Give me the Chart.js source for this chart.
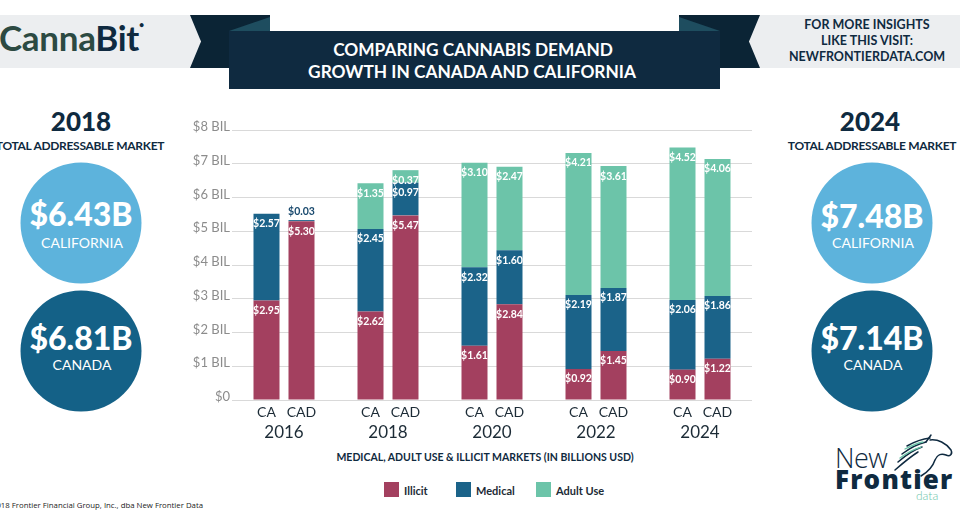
<!DOCTYPE html>
<html><head><meta charset="utf-8">
<script src="https://cdn.jsdelivr.net/npm/chart.js@4"></script>
<style>
html,body{margin:0;padding:0;}
body{width:960px;height:521px;position:relative;overflow:hidden;background:#fff;font-family:Lato,"Open Sans",sans-serif;}
.t{position:absolute;white-space:nowrap;line-height:1;}
.c{transform:translate(-50%,-50%);text-align:center;}
#wrap{position:absolute;left:178px;top:110px;width:592px;height:340px;}
</style></head><body>
<svg width="960" height="521" style="position:absolute;left:0;top:0">
  <rect x="0" y="15" width="200" height="53" fill="#eceef0"/>
  <rect x="750" y="15" width="210" height="53" fill="#eceef0"/>
  <polygon points="190,15 270,15 270,68 190,68 201,41.5" fill="#0b2435"/>
  <polygon points="760,15 679,15 679,68 760,68 749,41.5" fill="#0b2435"/>
  <rect x="229" y="31" width="491" height="58" fill="#0f2a40"/>
  <polygon points="229,31 270,17 270,31" fill="#1e4d5f"/>
  <polygon points="720,31 679,17 679,31" fill="#1e4d5f"/>
  <circle cx="81" cy="223" r="60.5" fill="#5db3dc"/>
  <circle cx="81" cy="351" r="60.5" fill="#146187"/>
  <circle cx="872" cy="223" r="60.5" fill="#5db3dc"/>
  <circle cx="872" cy="351" r="60.5" fill="#146187"/>
  <rect x="384" y="482" width="15" height="15" fill="#a3405f"/>
  <rect x="456" y="482" width="15" height="15" fill="#1b6389"/>
  <rect x="536" y="482" width="15" height="15" fill="#6cc4a9"/>
  <g fill="none" stroke="#0f2a40" stroke-width="1.5" stroke-linecap="round">
    <path d="M930,440 C938,439 946,443 951,450 C953,454 950,457 946,455 C941,453 937,455 935,460 C933,466 928,472 921,476"/>
    <path d="M895,470 C903,463 910,457 918,452"/>
    <path d="M898,462 C906,455 913,450 922,447"/>
    <path d="M902,454 C910,448 917,444 926,442"/>
    <path d="M907,446 C914,442 921,439 930,438"/>
    <path d="M926,442 L931,435"/>
  </g>
  <g fill="none" stroke="#6cc4a9" stroke-width="1.3" stroke-linecap="round">
    <path d="M900,458 C908,452 914,449 921,447"/>
    <path d="M905,449 C911,446 917,443 923,442"/>
  </g>
</svg>

<div class="t" style="left:-1px;top:20px;font-size:35px;font-weight:700;letter-spacing:-0.3px"><span style="color:#2c4a42">Canna</span><span style="color:#0f2a40">Bit</span><span style="color:#0f2a40;font-size:9px;vertical-align:top">&#8226;</span></div>
<div class="t c" style="left:473px;top:50px;color:#fff;font-size:17.3px;font-weight:700">COMPARING CANNABIS DEMAND</div>
<div class="t c" style="left:472px;top:72px;color:#fff;font-size:17.3px;font-weight:700">GROWTH IN CANADA AND CALIFORNIA</div>
<div class="t c" style="left:867px;top:25px;color:#0f2a40;font-size:12.5px;font-weight:700">FOR MORE INSIGHTS</div>
<div class="t c" style="left:867px;top:41px;color:#0f2a40;font-size:12.5px;font-weight:700">LIKE THIS VISIT:</div>
<div class="t c" style="left:867px;top:57px;color:#0f2a40;font-size:12.5px;font-weight:700">NEWFRONTIERDATA.COM</div>

<div class="t c" style="left:81px;top:121px;color:#0f2a40;font-size:26px;font-weight:900">2018</div>
<div class="t c" style="left:80px;top:146px;color:#0f2a40;font-size:12px;font-weight:700;letter-spacing:-0.3px">TOTAL ADDRESSABLE MARKET</div>
<div class="t c" style="left:81px;top:214px;color:#fff;font-size:32px;font-weight:900">$6.43B</div>
<div class="t c" style="left:82px;top:243px;color:#fff;font-size:14px">CALIFORNIA</div>
<div class="t c" style="left:81px;top:338px;color:#fff;font-size:32px;font-weight:900">$6.81B</div>
<div class="t c" style="left:82px;top:365px;color:#fff;font-size:14px">CANADA</div>

<div class="t c" style="left:870px;top:121px;color:#0f2a40;font-size:26px;font-weight:900">2024</div>
<div class="t c" style="left:872px;top:146px;color:#0f2a40;font-size:12px;font-weight:700;letter-spacing:-0.3px">TOTAL ADDRESSABLE MARKET</div>
<div class="t c" style="left:872px;top:216px;color:#fff;font-size:32px;font-weight:900">$7.48B</div>
<div class="t c" style="left:873px;top:243px;color:#fff;font-size:14px">CALIFORNIA</div>
<div class="t c" style="left:872px;top:338px;color:#fff;font-size:32px;font-weight:900">$7.14B</div>
<div class="t c" style="left:873px;top:365px;color:#fff;font-size:14px">CANADA</div>

<div class="t c" style="left:485px;top:457px;color:#0f2a40;font-size:10.5px;font-weight:700">MEDICAL, ADULT USE &amp; ILLICIT MARKETS (IN BILLIONS USD)</div>
<div class="t" style="left:404px;top:485px;color:#1c2b36;font-size:11px;font-weight:700">Illicit</div>
<div class="t" style="left:476px;top:485px;color:#1c2b36;font-size:11px;font-weight:700">Medical</div>
<div class="t" style="left:556px;top:485px;color:#1c2b36;font-size:11px;font-weight:700">Adult Use</div>
<div class="t" style="right:757px;top:502px;color:#222;font-size:7.8px;font-family:'Open Sans',sans-serif">&#169;2018 Frontier Financial Group, Inc., dba New Frontier Data</div>

<div class="t" style="left:835px;top:444px;color:#0f2a40;font-size:27px;font-weight:300;font-family:'Open Sans',sans-serif;letter-spacing:-0.5px">New</div>
<div class="t" style="left:835px;top:466px;color:#0f2a40;font-size:26px;font-weight:800;font-family:'Open Sans',sans-serif;letter-spacing:1.2px">Frontier</div>
<div class="t" style="left:916px;top:490px;color:#6cc4a9;font-size:12px;font-weight:300">data</div>

<div id="wrap"><canvas id="chart"></canvas></div>

<script>
const years = ['2016', '2018', '2020', '2022', '2024'];
const stackNames = ['CA', 'CAD'];
const caIllicit = [2.95, 2.62, 1.61, 0.92, 0.90];
const caMedical = [2.57, 2.45, 2.32, 2.19, 2.06];
const caAdult = [0, 1.35, 3.10, 4.21, 4.52];
const cadIllicit = [5.30, 5.47, 2.84, 1.45, 1.22];
const cadMedical = [0.03, 0.97, 1.60, 1.87, 1.86];
const cadAdult = [0, 0.37, 2.47, 3.61, 4.06];
const yTicks = [0, 1, 2, 3, 4, 5, 6, 7, 8];

const COL_ILL = '#a3405f', COL_MED = '#1b6389', COL_ADU = '#6cc4a9';

function ds(label, data, color, stack) {
  return { label, data, backgroundColor: color, stack, borderWidth: 0,
           categoryPercentage: 0.673, barPercentage: 0.743 };
}

const valueLabels = {
  id: 'valueLabels',
  afterDatasetsDraw(chart) {
    const ctx = chart.ctx;
    ctx.save();
    ctx.textAlign = 'center';
    ctx.textBaseline = 'middle';
    ctx.font = '700 10.5px Lato, sans-serif';
    chart.data.datasets.forEach((d, i) => {
      const meta = chart.getDatasetMeta(i);
      meta.data.forEach((bar, j) => {
        const v = d.data[j];
        if (!v) return;
        const txt = '$' + v.toFixed(2);
        if (v < 0.2) {
          ctx.fillStyle = '#1a4a6e';
          ctx.fillText(txt, bar.x, bar.y - 9);
        } else {
          ctx.fillStyle = '#ffffff';
          ctx.fillText(txt, bar.x, bar.y + 10);
        }
      });
    });
    ctx.font = '400 14px Lato, sans-serif';
    ctx.fillStyle = '#1c2b36';
    const bottom = chart.chartArea.bottom;
    [0, 3].forEach((di, k) => {
      chart.getDatasetMeta(di).data.forEach(bar => {
        ctx.fillText(stackNames[k], bar.x, bottom + 12);
      });
    });
    ctx.restore();
  }
};

new Chart(document.getElementById('chart'), {
  type: 'bar',
  data: {
    labels: years,
    datasets: [
      ds('Illicit', caIllicit, COL_ILL, 'CA'),
      ds('Medical', caMedical, COL_MED, 'CA'),
      ds('Adult Use', caAdult, COL_ADU, 'CA'),
      ds('Illicit', cadIllicit, COL_ILL, 'CAD'),
      ds('Medical', cadMedical, COL_MED, 'CAD'),
      ds('Adult Use', cadAdult, COL_ADU, 'CAD')
    ]
  },
  options: {
    responsive: true,
    maintainAspectRatio: false,
    animation: false,
    layout: { padding: { top: 20, right: 18, left: 0, bottom: 0 } },
    plugins: { legend: { display: false }, tooltip: { enabled: false } },
    scales: {
      x: {
        stacked: true,
        grid: { display: false, drawTicks: false },
        border: { display: false },
        ticks: { color: '#1c2b36', font: { family: 'Lato', size: 17 }, padding: 22 },
        afterFit(s) { s.height = 50; }
      },
      y: {
        stacked: true,
        min: 0, max: 8,
        afterBuildTicks(s) { s.ticks = yTicks.map(v => ({ value: v })); },
        grid: { color: '#d9d9d9', drawTicks: false, lineWidth: 1 },
        border: { display: false },
        ticks: {
          color: '#8c8c8c',
          font: { family: 'Lato', size: 13 },
          padding: 2,
          labelOffset: -3,
          callback: v => v === 0 ? '$0' : '$' + v + ' BIL'
        },
        afterFit(s) { s.width = 54; }
      }
    }
  },
  plugins: [valueLabels]
});
</script>
</body></html>
